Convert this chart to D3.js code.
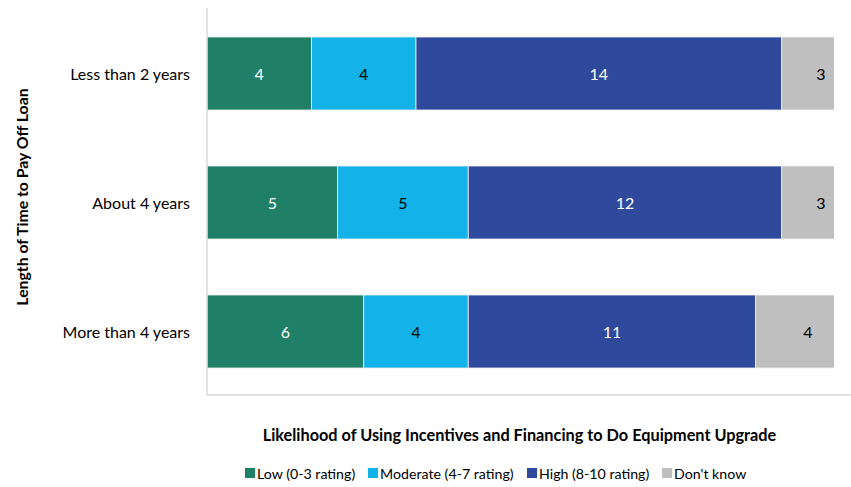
<!DOCTYPE html>
<html><head><meta charset="utf-8">
<script src="https://cdn.jsdelivr.net/npm/d3@7"></script>
<style>body{margin:0;background:#fff;}svg{display:block;font-family:Lato,"Open Sans",sans-serif;}</style>
</head><body>
<svg id="chart" width="851" height="487"></svg>
<script>
const categories = ["Less than 2 years", "About 4 years", "More than 4 years"];
const seriesNames = ["Low (0-3 rating)", "Moderate (4-7 rating)", "High (8-10 rating)", "Don't know"];
const lowValues = [4, 5, 6];
const moderateValues = [4, 5, 4];
const highValues = [14, 12, 11];
const dontKnowValues = [3, 3, 4];
const colors = ["#1f7f67", "#13b2e8", "#2f4a9c", "#bfbfbf"];
const labelColors = ["#fff", "#000", "#fff", "#000"];
const xMax = 24;

(function(){
const svg = d3.select("#chart");
const pLeft = 207, pRight = 834, pTop = 8, pBottom = 395;
const x = d3.scaleLinear().domain([0, xMax]).range([pLeft, pRight]);
const y = d3.scaleBand().domain(categories).range([pTop, pBottom]).paddingInner(0.434).paddingOuter(0.217);

const table = categories.map((c, i) => ({cat: c, v: [lowValues[i], moderateValues[i], highValues[i], dontKnowValues[i]]}));
const stack = d3.stack().keys([0,1,2,3]).value((d, k) => d.v[k]);
const layers = stack(table);

svg.append("defs").append("clipPath").attr("id", "clip")
  .append("rect").attr("x", pLeft).attr("y", pTop).attr("width", pRight - pLeft).attr("height", pBottom - pTop);

const g = svg.append("g").attr("clip-path", "url(#clip)");
layers.forEach((layer, k) => {
  g.selectAll(null).data(layer).enter().append("rect")
    .attr("x", d => x(d[0]))
    .attr("y", d => y(d.data.cat) + 1)
    .attr("width", d => x(d[1]) - x(d[0]))
    .attr("height", y.bandwidth())
    .attr("fill", colors[k])
    .attr("stroke", "#f2f2f2").attr("stroke-width", 0.8);
  svg.selectAll(null).data(layer).enter().append("text")
    .attr("x", d => (x(d[0]) + x(d[1])) / 2)
    .attr("y", d => y(d.data.cat) + y.bandwidth() / 2 + 2)
    .attr("dy", "0.35em").attr("text-anchor", "middle")
    .attr("font-size", 16).attr("fill", labelColors[k])
    .text(d => d.data.v[k]);
});

svg.append("line").attr("x1", pLeft).attr("x2", pLeft).attr("y1", pTop).attr("y2", pBottom)
  .attr("stroke", "#d9d9d9").attr("stroke-width", 1.5);
svg.append("line").attr("x1", pLeft).attr("x2", 851).attr("y1", pBottom).attr("y2", pBottom)
  .attr("stroke", "#d9d9d9").attr("stroke-width", 1.5);

const yAxis = d3.axisLeft(y).tickSize(0).tickPadding(17);
const ya = svg.append("g").attr("transform", `translate(${pLeft},2)`).call(yAxis);
ya.select(".domain").remove();
ya.selectAll("text").attr("font-size", 16).attr("fill", "#000").attr("font-family", "Lato,'Open Sans',sans-serif");

svg.append("text").attr("transform", "translate(28,197) rotate(-90)")
  .attr("text-anchor", "middle").attr("font-size", 15.8).attr("font-weight", "bold")
  .text("Length of Time to Pay Off Loan");
svg.append("text").attr("x", 519.5).attr("y", 441).attr("text-anchor", "middle")
  .attr("font-size", 16.3).attr("font-weight", "bold")
  .text("Likelihood of Using Incentives and Financing to Do Equipment Upgrade");

const legendX = [245, 368, 527, 662];
seriesNames.forEach((n, k) => {
  svg.append("rect").attr("x", legendX[k]).attr("y", 468).attr("width", 10).attr("height", 10).attr("fill", colors[k]);
  svg.append("text").attr("x", legendX[k] + 12).attr("y", 474).attr("dy", "0.35em")
    .attr("font-size", 14.2).text(n);
});
})();
</script>
</body></html>
